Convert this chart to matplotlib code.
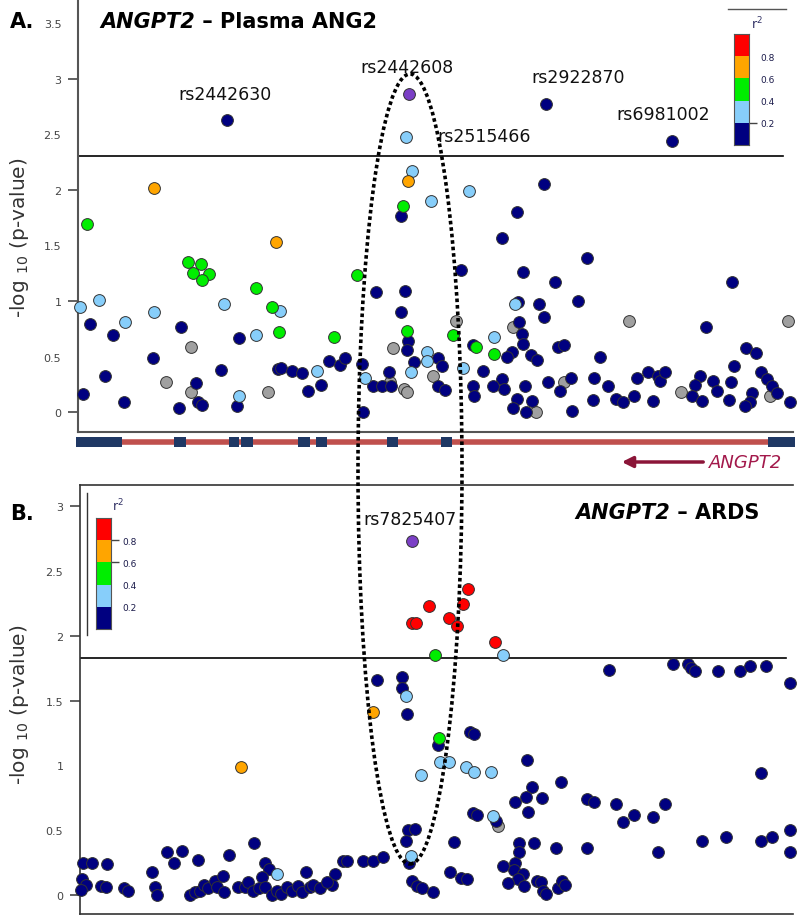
import matplotlib
matplotlib.use('Agg')
import matplotlib.pyplot as plt
from matplotlib.patches import Ellipse, Rectangle, FancyArrowPatch
from matplotlib.lines import Line2D

# LD colour code: n <0.2, l 0.2-0.4, g 0.4-0.6, o 0.6-0.8, r >0.8, p index SNP, x no LD info
LD_COLORS = {'n': '#000080', 'l': '#87CEFA', 'g': '#00EE00', 'o': '#FFA500',
             'r': '#FF0000', 'p': '#7B3FC6', 'x': '#A0A0A0'}
DRAW_ORDER = ['x', 'n', 'l', 'g', 'o', 'r', 'p']

# Panel A - plasma ANG2 (position along region, -log10 p, LD class)
a_pos = [227, 154, 87, 409, 406, 546, 672, 412, 408, 469, 431, 544, 403, 517, 401,
         502, 461, 523, 357, 376, 405, 401, 515, 518, 456, 519, 513, 334, 407, 408,
         453, 494, 522, 523, 393, 407, 473, 476, 494, 512, 507, 531, 537, 427, 427,
         414, 438, 442, 329, 340, 345, 362, 365, 389, 411, 390, 373, 382, 391, 404,
         407, 433, 438, 445, 463, 483, 502, 504, 493, 473, 474, 525, 517, 513, 526,
         363, 532, 536, 572,
         276, 188, 201, 193, 209, 202, 80, 99, 154, 224, 256, 272, 280, 90, 125,
         181, 113, 279, 256, 239, 191, 153, 105, 221, 278, 281, 292, 302, 317, 166,
         196, 191, 83, 124, 179, 198, 202, 239, 237, 268, 308, 321,
         587, 555, 732, 578, 539, 544, 629, 706, 788, 558, 564, 600, 746, 756, 734,
         564, 548, 571, 560, 594, 608, 637, 648, 658, 660, 665, 700, 695, 713, 717,
         731, 761, 767, 772, 777, 770, 681, 692, 702, 729, 752, 750, 745, 790, 593,
         616, 623, 634, 653]
a_logp = [2.63, 2.02, 1.69, 2.86, 2.48, 2.77, 2.44, 2.17, 2.08, 1.99, 1.90, 2.05, 1.86, 1.80, 1.77,
          1.57, 1.28, 1.26, 1.23, 1.08, 1.09, 0.90, 0.97, 0.99, 0.82, 0.81, 0.77, 0.68, 0.73, 0.64,
          0.69, 0.68, 0.70, 0.61, 0.58, 0.56, 0.60, 0.59, 0.52, 0.54, 0.50, 0.51, 0.47, 0.54, 0.46,
          0.45, 0.49, 0.41, 0.46, 0.42, 0.49, 0.43, 0.31, 0.36, 0.36, 0.27, 0.23, 0.23, 0.23, 0.21,
          0.18, 0.32, 0.23, 0.20, 0.40, 0.37, 0.30, 0.21, 0.23, 0.23, 0.14, 0.23, 0.12, 0.04, 0.00,
          0.00, 0.10, 0.00, 0.01,
          1.53, 1.35, 1.33, 1.25, 1.24, 1.19, 0.95, 1.01, 0.90, 0.97, 1.12, 0.95, 0.91, 0.79, 0.81,
          0.77, 0.69, 0.72, 0.69, 0.67, 0.59, 0.49, 0.32, 0.38, 0.39, 0.40, 0.37, 0.35, 0.37, 0.27,
          0.26, 0.18, 0.16, 0.09, 0.04, 0.09, 0.06, 0.14, 0.05, 0.18, 0.19, 0.24,
          1.39, 1.17, 1.17, 1.00, 0.97, 0.86, 0.82, 0.77, 0.82, 0.59, 0.60, 0.50, 0.58, 0.53, 0.41,
          0.27, 0.27, 0.31, 0.19, 0.31, 0.23, 0.31, 0.36, 0.32, 0.28, 0.36, 0.32, 0.24, 0.28, 0.19,
          0.27, 0.36, 0.30, 0.23, 0.17, 0.14, 0.18, 0.14, 0.10, 0.11, 0.17, 0.09, 0.05, 0.09, 0.11,
          0.12, 0.09, 0.14, 0.10]
a_ld = list('nogplnnlollngnn'
            'nnngnnnlnxnxggn'
            'glnnxnnggnnnnll'
            'nnnnnnnlnlxnnnx'
            'xxnnlnnnnnnnnnn'
            'nnxn'
            'ogggggllllgglnl'
            'nnglnxnnnnnnnlx'
            'nxnnnnnlnxnn'
            'nnnnnnxnxnnnnnn'
            'xnnnnnnnnnnnnnn'
            'nnnnnxxnnnnnnnn'
            'nnnn')

# Panel B - ARDS
b_pos = [412, 468, 429, 463, 412, 416, 449, 457, 495, 435, 503, 609, 673, 688, 691,
         695, 718, 740, 750, 766, 790, 402, 377, 402, 406, 373, 407, 470, 474, 439,
         438, 440, 449, 466, 474, 491, 421, 527, 561, 532, 526, 542, 515, 528, 587,
         594, 616, 623, 634, 653, 665, 761, 473, 477, 496, 493, 498, 408, 415, 406,
         454, 411, 519, 519, 534, 556, 587, 658, 702, 726, 761, 772, 790, 790, 343,
         347, 363, 373, 383, 409, 335, 332, 412, 417, 422, 433, 450, 461, 467, 503,
         515, 514, 523, 518, 508, 524, 537, 541, 543, 546, 558, 562, 565,
         241, 254, 167, 174, 182, 198, 229, 265, 269, 277, 262, 306, 83, 92, 107,
         82, 86, 81, 101, 106, 124, 128, 152, 155, 157,
         190, 195, 200, 204, 208, 215, 217, 223, 224, 238, 245, 248, 253, 259, 265,
         272, 277, 281, 287, 292, 298, 302, 310, 313, 320, 327]
b_logp = [2.73, 2.36, 2.23, 2.25, 2.10, 2.10, 2.14, 2.08, 1.95, 1.85, 1.85, 1.74, 1.78, 1.78, 1.75,
          1.73, 1.73, 1.73, 1.77, 1.77, 1.64, 1.68, 1.66, 1.60, 1.54, 1.41, 1.40, 1.26, 1.24, 1.21,
          1.16, 1.03, 1.03, 0.99, 0.95, 0.95, 0.93, 1.04, 0.87, 0.83, 0.76, 0.75, 0.72, 0.64, 0.74,
          0.72, 0.70, 0.56, 0.62, 0.60, 0.70, 0.94, 0.63, 0.62, 0.57, 0.61, 0.53, 0.50, 0.51, 0.42,
          0.41, 0.30, 0.40, 0.33, 0.40, 0.36, 0.36, 0.33, 0.42, 0.45, 0.42, 0.45, 0.50, 0.33, 0.26,
          0.26, 0.26, 0.26, 0.29, 0.25, 0.16, 0.08, 0.11, 0.07, 0.05, 0.02, 0.18, 0.13, 0.12, 0.22,
          0.25, 0.19, 0.16, 0.12, 0.09, 0.07, 0.11, 0.10, 0.03, 0.01, 0.05, 0.11, 0.08,
          0.99, 0.40, 0.33, 0.25, 0.34, 0.27, 0.31, 0.25, 0.20, 0.16, 0.14, 0.18, 0.25, 0.25, 0.24,
          0.12, 0.08, 0.04, 0.07, 0.06, 0.05, 0.03, 0.18, 0.06, 0.00,
          0.00, 0.02, 0.03, 0.08, 0.05, 0.11, 0.06, 0.15, 0.02, 0.06, 0.06, 0.10, 0.03, 0.05, 0.06,
          0.00, 0.03, 0.01, 0.06, 0.03, 0.07, 0.02, 0.06, 0.08, 0.05, 0.10]
b_ld = list('prrrrrrrrglnnnn'
            'nnnnnnnnnlonnng'
            'nllllllnnnnnnnn'
            'nnnnnnnnnnlxnnn'
            'nlnnnnnnnnnnnnn'
            'nnnnnnnnnnnnnnn'
            'nnnnnnnnnnnnn'
            'onnnnnnnnlnnnnn'
            'nnnnnnnnnn'
            'nnnnnnnnnnnnnnn'
            'nnnnnnnnnnn')

# gene model for ANGPT2 (same position scale)
exon_start = [76, 174, 229, 241, 298, 316, 387, 441, 768]
exon_end = [122, 186, 239, 253, 310, 327, 398, 452, 795]

# labelled SNPs: name, position, label height
a_snps = [('rs2442630', 225, 2.86), ('rs2442608', 407, 3.11), ('rs2922870', 578, 3.02),
          ('rs6981002', 663, 2.68), ('rs2515466', 484, 2.49)]
b_snps = [('rs7825407', 410, 2.90)]

key_colors = ['#000080', '#87CEFA', '#00EE00', '#FFA500', '#FF0000']

W, H = 800, 920


def fx(px):
    return px / W


def fy(py):
    return 1 - py / H


def scatter_ld(ax, pos, logp, ld):
    for code in DRAW_ORDER:
        xs = [p for p, c in zip(pos, ld) if c == code]
        ys = [v for v, c in zip(logp, ld) if c == code]
        ax.scatter(xs, ys, s=72, c=LD_COLORS[code], edgecolors='#333333',
                   linewidths=0.7, zorder=3, clip_on=False)


def setup_yaxis(ax, ticks, marked):
    ax.set_yticks(ticks)
    ax.set_yticklabels([f'{t:g}' for t in ticks])
    ax.tick_params(axis='y', length=7, width=1.3, color='#555555', labelsize=8,
                   labelcolor='#444444', pad=5)
    for t, tick in zip(ticks, ax.yaxis.get_major_ticks()):
        tick.tick1line.set_visible(t in marked)
    ax.set_xticks([])


def draw_key(left, top, marked):
    kax = fig.add_axes([fx(left), fy(top + 111), fx(15), 111 / H])
    for i, c in enumerate(key_colors):
        kax.add_patch(Rectangle((0, i * 0.2), 1, 0.2, facecolor=c, edgecolor='none'))
    kax.set_xlim(0, 1)
    kax.set_ylim(0, 1)
    kax.set_xticks([])
    kax.yaxis.tick_right()
    vals = [0.2, 0.4, 0.6, 0.8]
    kax.set_yticks(vals)
    kax.set_yticklabels([f'{v:.1f}' for v in vals])
    kax.tick_params(axis='y', length=6, width=1, color='#444444', labelsize=6.5,
                    labelcolor='#1a1a4a', pad=2)
    for v, tick in zip(vals, kax.yaxis.get_major_ticks()):
        tick.tick2line.set_visible(v in marked)
    for s in kax.spines.values():
        s.set_color('#555555')
        s.set_linewidth(0.8)
    return kax


def two_part_title(x, y, first, rest, size):
    t1 = fig.text(x, y, first, fontsize=size, fontweight='bold', style='italic',
                  va='center', ha='left')
    bb = t1.get_window_extent(renderer=fig.canvas.get_renderer())
    fig.text(bb.x1 / fig.bbox.width, y, rest, fontsize=size, fontweight='bold',
             va='center', ha='left')


fig = plt.figure(figsize=(8, 9.2), dpi=100)

# ---- panel A
axA = fig.add_axes([fx(78), fy(433), fx(793 - 78), (433) / H])
scatter_ld(axA, a_pos, a_logp, a_ld)
axA.set_xlim(78, 793)
axA.set_ylim(-0.18, 3.72)
axA.axhline(2.31, xmax=0.986, color='black', lw=1.2, zorder=2)
for side in ['top', 'right']:
    axA.spines[side].set_visible(False)
for side in ['left', 'bottom']:
    axA.spines[side].set_color('#555555')
    axA.spines[side].set_linewidth(1.5)
setup_yaxis(axA, [0, 0.5, 1, 1.5, 2, 2.5, 3, 3.5], [0, 1, 2, 3])
for name, p, yv in a_snps:
    axA.text(p, yv, name, ha='center', va='center', fontsize=12.5, color='#111111')

# ---- gene track
trk = fig.add_axes([fx(78), fy(452), fx(793 - 78), 18 / H])
trk.set_xlim(78, 793)
trk.set_ylim(-1, 1)
trk.axis('off')
trk.plot([76, 795], [0, 0], color='#C0504D', lw=4, solid_capstyle='butt', clip_on=False)
for s, e in zip(exon_start, exon_end):
    trk.add_patch(Rectangle((s, -0.55), e - s, 1.1, facecolor='#1F3864',
                            edgecolor='none', clip_on=False, zorder=3))
fig.add_artist(FancyArrowPatch((fx(706), fy(463)), (fx(619), fy(463)),
                               transform=fig.transFigure, arrowstyle='-|>',
                               mutation_scale=16, color='#8B1538', lw=2.5))
fig.text(fx(709), fy(463), 'ANGPT2', style='italic', color='#A3194B', fontsize=13,
         va='center', ha='left')

# ---- panel B
axB = fig.add_axes([fx(80), fy(915), fx(793 - 80), (915 - 486) / H])
scatter_ld(axB, b_pos, b_logp, b_ld)
axB.set_xlim(80, 793)
axB.set_ylim(-0.147, 3.166)
axB.axhline(1.83, xmax=0.99, color='black', lw=1.2, zorder=2)
axB.spines['right'].set_visible(False)
for side in ['left', 'bottom', 'top']:
    axB.spines[side].set_color('#333333')
    axB.spines[side].set_linewidth(1.2)
setup_yaxis(axB, [0, 0.5, 1, 1.5, 2, 2.5, 3], [0, 1.5, 2, 3])
for name, p, yv in b_snps:
    axB.text(p, yv, name, ha='center', va='center', fontsize=12.5, color='#111111')

# ---- LD keys
draw_key(734, 35, [0.2])
fig.add_artist(Line2D([fx(728), fx(786)], [fy(10), fy(10)], color='#555555', lw=1))
fig.text(fx(757), fy(24), 'r$^2$', fontsize=9, color='#333366', ha='center', va='center')
draw_key(96, 519, [0.6, 0.8])
fig.add_artist(Line2D([fx(87), fx(87)], [fy(494), fy(636)], color='#333333', lw=1))
fig.text(fx(118), fy(506), 'r$^2$', fontsize=9, color='#333366', ha='center', va='center')

# ---- titles and labels
fig.text(fx(10), fy(22), 'A.', fontsize=15, fontweight='bold', va='center')
fig.text(fx(10), fy(514), 'B.', fontsize=15, fontweight='bold', va='center')
two_part_title(fx(100), fy(22), 'ANGPT2', ' \u2013 Plasma ANG2', 15)
two_part_title(fx(575), fy(513), 'ANGPT2', ' \u2013 ARDS', 15)
ylab = r'-log $_{\mathrm{10}}$ (p-value)'
fig.text(fx(20), fy(238), ylab, rotation=90, fontsize=14.5, color='#333333',
         ha='center', va='center')
fig.text(fx(20), fy(705), ylab, rotation=90, fontsize=14.5, color='#333333',
         ha='center', va='center')

# ---- ellipse linking both panels
fig.add_artist(Ellipse((fx(410), fy(470)), fx(104), 790 / H, transform=fig.transFigure,
                       fill=False, ls=(0, (1, 0.8)), lw=2.6, color='black', zorder=10))

fig.savefig('out.png', dpi=100)
